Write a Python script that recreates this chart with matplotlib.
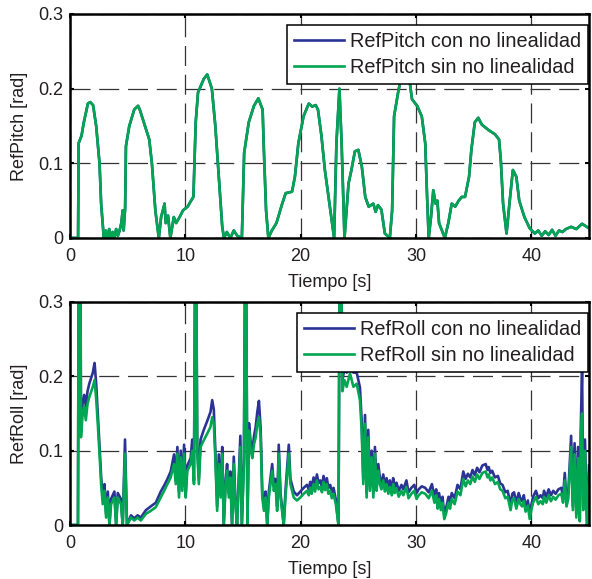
"""Pitch / roll references, with and without the nonlinearity (two stacked panels)."""

import matplotlib
matplotlib.use("Agg")
import matplotlib.pyplot as plt

# ---- data -----------------------------------------------------------------
pitch_t = [
    0.0, 0.7, 0.75, 1.0, 1.2, 1.55, 1.75, 2.0, 2.27, 2.56,
    2.7, 2.93, 3.1, 3.25, 3.4, 3.55, 3.7, 3.85, 4.0, 4.15,
    4.3, 4.45, 4.57, 4.65, 4.78, 4.85, 5.14, 5.57, 5.9, 6.05,
    6.4, 6.87, 7.1, 7.4, 7.7, 7.9, 8.2, 8.3, 8.5, 8.7,
    9.0, 9.2, 9.5, 9.8, 10.2, 10.5, 10.7, 10.9, 11.1, 11.6,
    11.9, 12.3, 12.6, 12.9, 13.2, 13.35, 13.6, 13.9, 14.2, 14.5,
    14.9, 15.1, 15.5, 15.95, 16.33, 16.7, 16.81, 17.0, 17.2, 17.5,
    17.9, 18.4, 18.7, 19.25, 19.5, 19.8, 20.25, 20.7, 21.0, 21.3,
    21.5, 21.8, 22.1, 22.5, 22.9, 23.1, 23.36, 23.55, 23.8, 24.15,
    24.4, 24.7, 25.0, 25.3, 25.6, 25.9, 26.3, 26.5, 26.7, 27.0,
    27.3, 27.73, 27.93, 28.1, 28.45, 28.74, 29.1, 29.45, 29.65, 30.1,
    30.5, 30.8, 30.95, 31.1, 31.3, 31.5, 31.7, 31.85, 32.0, 32.5,
    32.8, 33.1, 33.4, 33.7, 33.97, 34.25, 34.6, 34.8, 35.1, 35.4,
    35.7, 36.25, 36.84, 37.2, 37.35, 37.55, 37.85, 38.1, 38.4, 38.7,
    38.95, 39.4, 39.86, 40.3, 40.6, 40.9, 41.2, 41.5, 41.8, 42.1,
    42.4, 42.7, 43.0, 43.45, 43.9, 44.4, 45.0,
]
pitch_sin = [
    0, 0, 0.127, 0.137, 0.155, 0.18, 0.182, 0.178, 0.15, 0.10,
    0.046, 0.0, 0.01, 0.0, 0.012, 0.0, 0.008, 0.0, 0.012, 0.003,
    0.01, 0.02, 0.037, 0.01, 0.04, 0.123, 0.15, 0.172, 0.177, 0.172,
    0.155, 0.132, 0.10, 0.037, 0.0, 0.028, 0.046, 0.02, 0.03, 0.0,
    0.028, 0.02, 0.028, 0.037, 0.042, 0.05, 0.055, 0.155, 0.195, 0.213,
    0.219, 0.2, 0.15, 0.082, 0.015, 0.0, 0.008, 0.0, 0.01, 0.003,
    0.0, 0.114, 0.155, 0.177, 0.187, 0.172, 0.118, 0.037, 0.0, 0.01,
    0.02, 0.046, 0.06, 0.062, 0.082, 0.127, 0.163, 0.18, 0.176, 0.178,
    0.172, 0.137, 0.091, 0.046, 0.0, 0.127, 0.20, 0.127, 0.0, 0.073,
    0.091, 0.116, 0.118, 0.096, 0.055, 0.042, 0.046, 0.035, 0.044, 0.038,
    0.006, 0.0, 0.037, 0.163, 0.195, 0.218, 0.235, 0.21, 0.186, 0.177,
    0.163, 0.127, 0.06, 0.0, 0.028, 0.064, 0.046, 0.05, 0.02, 0.0,
    0.02, 0.046, 0.042, 0.05, 0.055, 0.055, 0.082, 0.118, 0.155, 0.161,
    0.152, 0.145, 0.139, 0.132, 0.105, 0.046, 0.006, 0.046, 0.091, 0.082,
    0.05, 0.028, 0.013, 0.006, 0.01, 0.003, 0.009, 0.004, 0.011, 0.003,
    0.01, 0.008, 0.012, 0.015, 0.012, 0.019, 0.013,
]
# the two pitch curves coincide in the reference (blue is hidden under green)
pitch_con = list(pitch_sin)

roll_t = [
    0.0, 0.69, 0.78, 0.88, 0.95, 1.1, 1.23, 1.37, 1.52, 1.67,
    1.98, 2.13, 2.27, 2.41, 2.56, 2.7, 2.84, 2.99, 3.13, 3.28,
    3.42, 3.56, 3.85, 4.0, 4.14, 4.42, 4.57, 4.77, 4.94, 5.29,
    5.57, 5.86, 6.14, 6.58, 7.0, 7.44, 7.87, 8.16, 8.45, 8.73,
    9.02, 9.17, 9.31, 9.45, 9.6, 9.74, 9.89, 10.03, 10.17, 10.46,
    10.6, 10.75, 10.89, 11.03, 11.17, 11.32, 11.6, 11.9, 12.18, 12.33,
    12.47, 12.6, 12.76, 12.9, 13.05, 13.2, 13.33, 13.5, 13.62, 13.77,
    13.9, 14.05, 14.2, 14.34, 14.48, 14.63, 14.77, 14.9, 15.08, 15.23,
    15.38, 15.52, 15.67, 15.81, 15.96, 16.1, 16.24, 16.38, 16.53, 16.67,
    16.82, 16.96, 17.1, 17.24, 17.53, 17.67, 17.82, 17.96, 18.1, 18.25,
    18.39, 18.53, 18.68, 18.97, 19.11, 19.4, 19.68, 19.97, 20.26, 20.55,
    20.7, 20.83, 20.95, 21.12, 21.25, 21.41, 21.55, 21.7, 21.85, 21.98,
    22.12, 22.27, 22.4, 22.56, 22.7, 22.85, 23.05, 23.28,
    23.42, 23.62, 23.79, 23.99, 24.28, 24.57, 24.86, 25.14, 25.29, 25.43,
    25.58, 25.72, 25.86, 26.0, 26.15, 26.3, 26.44, 26.58, 26.73, 26.87,
    27.0, 27.16, 27.3, 27.45, 27.6, 27.73, 27.9, 28.02, 28.15, 28.31,
    28.5, 28.74, 28.9, 29.17, 29.35, 29.6, 29.85, 30.05, 30.23, 30.5,
    30.8, 31.1, 31.38, 31.6, 31.75, 31.88, 32.0, 32.16, 32.3, 32.45,
    32.6, 32.82, 32.95, 33.1, 33.35, 33.6, 33.85,
    34.1, 34.3, 34.5, 34.7, 34.9, 35.1, 35.3, 35.5, 35.75, 36.04,
    36.2, 36.3, 36.45, 36.6, 36.85, 37.1, 37.3, 37.5,
    37.75, 37.95, 38.2, 38.35, 38.5, 38.7, 38.9, 39.05, 39.2, 39.35,
    39.5, 39.7, 39.86, 40.0, 40.15, 40.4, 40.6, 40.8,
    41.0, 41.1, 41.3, 41.5, 41.7, 41.9, 42.1, 42.35, 42.6, 42.75,
    42.9, 43.05, 43.2, 43.45, 43.6, 43.75,
    43.9, 44.05, 44.2, 44.3, 44.4, 44.5, 44.65, 44.83, 45.0,
]
roll_sin = [
    0, 0, 0.5, 0.5, 0.118, 0.15, 0.159, 0.141, 0.163, 0.172,
    0.186, 0.195, 0.17, 0.136, 0.096, 0.055, 0.028, 0.046, 0.01, 0.037,
    0.0, 0.028, 0.037, 0.0, 0.037, 0.028, 0.0, 0.096, 0.0, 0.01,
    0.006, 0.01, 0.006, 0.015, 0.019, 0.024, 0.037, 0.046, 0.055, 0.064,
    0.082, 0.055, 0.096, 0.037, 0.091, 0.046, 0.096, 0.037, 0.073, 0.082,
    0.10, 0.055, 0.5, 0.10, 0.055, 0.105, 0.114, 0.123, 0.132, 0.145,
    0.136, 0.091, 0.019, 0.082, 0.037, 0.096, 0.0, 0.055, 0.073, 0.037,
    0.064, 0.0, 0.082, 0.028, 0.0, 0.055, 0.105, 0.0, 0.082, 0.5,
    0.0, 0.127, 0.10, 0.09, 0.109, 0.118, 0.136, 0.145, 0.118, 0.037,
    0.019, 0.037, 0.0, 0.037, 0.073, 0.046, 0.055, 0.019, 0.096, 0.037,
    0.019, 0.0, 0.037, 0.096, 0.055, 0.037, 0.033, 0.037, 0.042, 0.046,
    0.04, 0.05, 0.042, 0.055, 0.045, 0.06, 0.048, 0.051, 0.044, 0.058,
    0.047, 0.055, 0.042, 0.046, 0.036, 0.042, 0.028, 0.0,
    0.5, 0.18, 0.195, 0.186, 0.204, 0.186, 0.19, 0.168, 0.127, 0.055,
    0.136, 0.037, 0.118, 0.046, 0.091, 0.037, 0.096, 0.046, 0.073, 0.055,
    0.048, 0.06, 0.045, 0.055, 0.042, 0.051, 0.04, 0.055, 0.043, 0.049,
    0.038, 0.046, 0.04, 0.051, 0.036, 0.042, 0.046, 0.035, 0.040, 0.044,
    0.042, 0.036, 0.046, 0.030, 0.040, 0.022, 0.035, 0.020, 0.030, 0.008,
    0.015, 0.030, 0.022, 0.035, 0.028, 0.045, 0.040,
    0.062, 0.052, 0.060, 0.055, 0.065, 0.058, 0.068, 0.062, 0.070, 0.072,
    0.064, 0.068, 0.060, 0.064, 0.055, 0.058, 0.048, 0.046,
    0.036, 0.038, 0.020, 0.034, 0.036, 0.022, 0.035, 0.028, 0.025, 0.032,
    0.018, 0.026, 0.008, 0.020, 0.030, 0.038, 0.028, 0.032,
    0.028, 0.038, 0.030, 0.040, 0.032, 0.038, 0.034, 0.040, 0.042, 0.030,
    0.060, 0.025, 0.035, 0.105, 0.020, 0.095,
    0.010, 0.090, 0.005, 0.125, 0.150, 0.020, 0.100, 0.0, 0.07,
]
roll_con = [
    0, 0, 0.5, 0.5, 0.13, 0.165, 0.175, 0.16, 0.18, 0.19,
    0.205, 0.218, 0.19, 0.15, 0.105, 0.065, 0.035, 0.055, 0.015, 0.045,
    0.0, 0.035, 0.045, 0.0, 0.043, 0.035, 0.0, 0.115, 0.0, 0.013,
    0.009, 0.013, 0.01, 0.02, 0.025, 0.03, 0.045, 0.053, 0.062, 0.072,
    0.095, 0.06, 0.105, 0.045, 0.1, 0.052, 0.108, 0.043, 0.08, 0.09,
    0.115, 0.06, 0.5, 0.11, 0.062, 0.115, 0.128, 0.14, 0.152, 0.168,
    0.155, 0.1, 0.025, 0.095, 0.045, 0.105, 0.0, 0.062, 0.082, 0.043,
    0.072, 0.0, 0.092, 0.033, 0.0, 0.063, 0.12, 0.0, 0.09, 0.5,
    0.0, 0.137, 0.11, 0.1, 0.12, 0.132, 0.152, 0.167, 0.13, 0.045,
    0.025, 0.045, 0.0, 0.045, 0.082, 0.053, 0.062, 0.025, 0.108, 0.043,
    0.023, 0.0, 0.045, 0.108, 0.062, 0.045, 0.04, 0.045, 0.05, 0.054,
    0.048, 0.058, 0.05, 0.064, 0.053, 0.068, 0.056, 0.06, 0.052, 0.066,
    0.055, 0.063, 0.05, 0.054, 0.044, 0.05, 0.034, 0.0,
    0.5, 0.195, 0.21, 0.205, 0.222, 0.205, 0.205, 0.185, 0.14, 0.062,
    0.148, 0.043, 0.128, 0.053, 0.1, 0.044, 0.105, 0.054, 0.082, 0.063,
    0.056, 0.068, 0.053, 0.063, 0.05, 0.06, 0.048, 0.063, 0.051, 0.057,
    0.046, 0.054, 0.048, 0.06, 0.044, 0.05, 0.054, 0.043, 0.048, 0.052,
    0.05, 0.044, 0.055, 0.038, 0.048, 0.03, 0.043, 0.027, 0.038, 0.014,
    0.022, 0.038, 0.03, 0.043, 0.036, 0.054, 0.048,
    0.072, 0.062, 0.069, 0.064, 0.074, 0.067, 0.077, 0.071, 0.08, 0.082,
    0.074, 0.078, 0.07, 0.073, 0.064, 0.066, 0.056, 0.054,
    0.044, 0.046, 0.027, 0.042, 0.044, 0.03, 0.043, 0.036, 0.032, 0.04,
    0.024, 0.033, 0.013, 0.027, 0.038, 0.046, 0.036, 0.04,
    0.036, 0.046, 0.038, 0.048, 0.04, 0.046, 0.042, 0.048, 0.05, 0.038,
    0.07, 0.032, 0.042, 0.12, 0.025, 0.11,
    0.015, 0.105, 0.008, 0.14, 0.21, 0.025, 0.115, 0.0, 0.08,
]

x_ticks = [0, 10, 20, 30, 40]
y_ticks = [0, 0.1, 0.2, 0.3]
y_ticklabels = ["0", "0.1", "0.2", "0.3"]
xlabel = "Tiempo [s]"

BLUE = "#2b3494"
GREEN = "#00a651"
TXT = "#231f20"

plt.rcParams["font.family"] = ["Liberation Sans", "DejaVu Sans"]
plt.rcParams["font.size"] = 13


def draw_panel(ax, t, con, sin, ylabel, labels):
    ax.plot(t, con, color=BLUE, lw=1.9, label=labels[0])
    ax.plot(t, sin, color=GREEN, lw=1.9, label=labels[1])
    ax.set_xlim(0, 45)
    ax.set_ylim(0, 0.3)
    ax.set_xticks(x_ticks)
    ax.set_yticks(y_ticks)
    ax.set_yticklabels(y_ticklabels)
    ax.grid(True, color="#333333", lw=0.9, linestyle=(0, (16, 7)))
    ax.tick_params(direction="in", length=3, width=1.5, top=True, right=True,
                   colors="black", labelcolor=TXT)
    ax.tick_params(axis="x", pad=7)
    ax.tick_params(axis="y", pad=5)
    for s in ax.spines.values():
        s.set_linewidth(1.8)
        s.set_color("black")
    ax.set_xlabel(xlabel, color=TXT, labelpad=6.5)
    ax.set_ylabel(ylabel, color=TXT, labelpad=7)
    leg = ax.legend(loc="upper right", bbox_to_anchor=(1.0, 1 - 10 / 224),
                    borderaxespad=0.05, fancybox=False, framealpha=1,
                    edgecolor="black", handlelength=2.5, handletextpad=0.3,
                    labelspacing=0.35, borderpad=0.35, fontsize=14.3)
    leg.get_frame().set_linewidth(1.1)
    for txt in leg.get_texts():
        txt.set_color(TXT)


def main():
    assert len(pitch_t) == len(pitch_sin) == len(pitch_con)
    assert len(roll_t) == len(roll_sin) == len(roll_con)
    fig = plt.figure(figsize=(5.92, 5.79), dpi=100)
    ax1 = fig.add_axes([70 / 592, 1 - 238 / 579, 519 / 592, 224 / 579])
    ax2 = fig.add_axes([70 / 592, 1 - 525 / 579, 519 / 592, 223 / 579])
    draw_panel(ax1, pitch_t, pitch_con, pitch_sin, "RefPitch [rad]",
               ["RefPitch con no linealidad", "RefPitch sin no linealidad"])
    draw_panel(ax2, roll_t, roll_con, roll_sin, "RefRoll [rad]",
               ["RefRoll con no linealidad", "RefRoll sin no linealidad"])
    fig.savefig("out.png", dpi=100)
    plt.close(fig)


if __name__ == "__main__":
    main()
